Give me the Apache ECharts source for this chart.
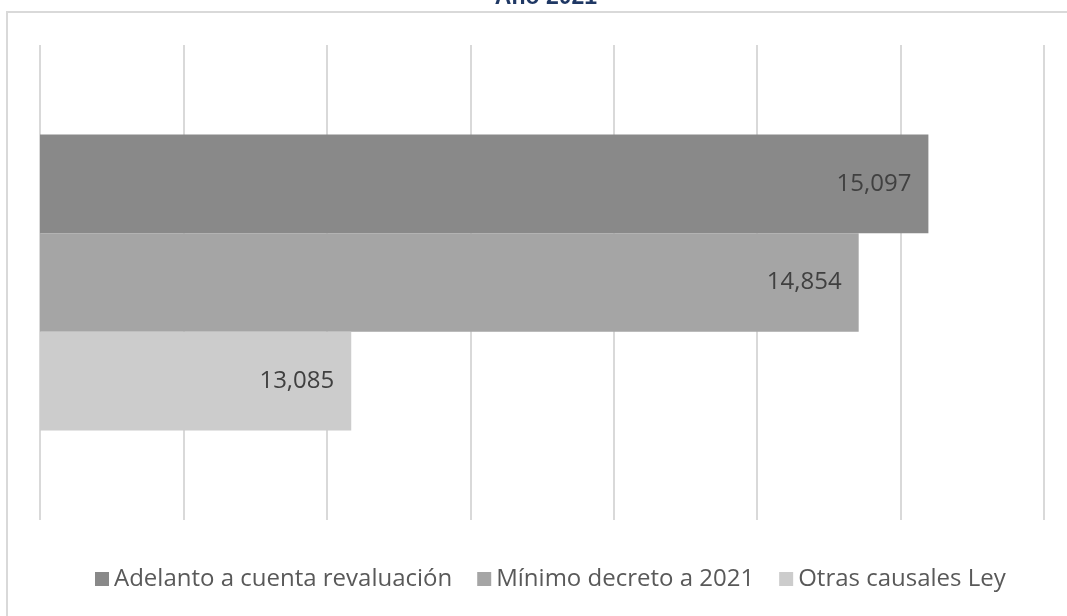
<!DOCTYPE html>
<html><head><meta charset="utf-8">
<script src="https://cdn.jsdelivr.net/npm/echarts@6/dist/echarts.min.js"></script>
<style>html,body{margin:0;padding:0;background:#fff}#c{width:1067px;height:616px}</style>
</head><body><div id="c"></div>
<script>
const categories = ['Año 2021'];
const seriesNames = ['Adelanto a cuenta revaluación', 'Mínimo decreto a 2021', 'Otras causales Ley'];
const adelanto = [15097];
const minimo = [14854];
const otras = [13085];
const seriesColors = ['#898989', '#a5a5a5', '#cccccc'];
const chart = echarts.init(document.getElementById('c'));
const vals = [adelanto, minimo, otras];
chart.setOption({
  animation: false,
  title: {text: 'Año 2021', left: 541, textAlign: 'center', top: -19,
    textStyle: {color: '#1f3864', fontSize: 23, fontWeight: 'bold', fontFamily: 'Liberation Sans'}},
  graphic: [{type: 'rect', shape: {x: 7, y: 12, width: 1100, height: 700},
    style: {fill: 'none', stroke: '#d9d9d9', lineWidth: 2}, silent: true}],
  legend: {bottom: 20, left: 90, itemWidth: 14, itemHeight: 14, itemGap: 25, icon: 'rect',
    textStyle: {color: '#595959', fontSize: 24, fontFamily: 'Open Sans', padding: [0,0,0,0]}},
  grid: {left: 40, right: 23, top: 45, bottom: 96},
  xAxis: {type: 'value', min: 12000, max: 15500, interval: 500,
    axisLabel: {show: false}, axisLine: {show: false}, axisTick: {show: false},
    splitLine: {lineStyle: {color: '#d9d9d9', width: 2}}},
  yAxis: {type: 'category', data: categories, inverse: true,
    axisLabel: {show: false}, axisLine: {show: false}, axisTick: {show: false}},
  series: seriesNames.map((n, i) => ({
    name: n, type: 'bar', data: vals[i], barGap: '0%', barCategoryGap: '37.7%',
    itemStyle: {color: seriesColors[i]},
    label: {show: true, position: 'insideRight', distance: 17, color: '#404040', fontSize: 24,
      fontFamily: 'Open Sans', formatter: p => p.value.toLocaleString('en-US')}
  }))
});
</script></body></html>
